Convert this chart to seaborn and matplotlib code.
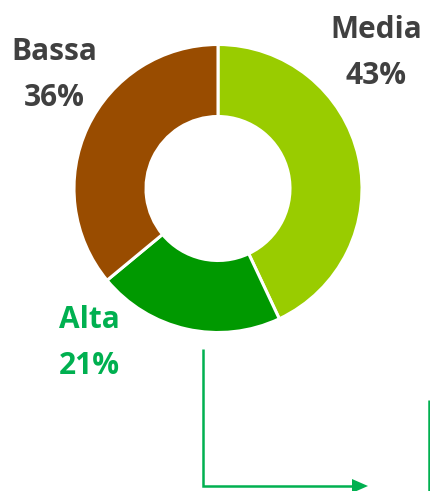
import matplotlib
matplotlib.use("Agg")
from matplotlib import pyplot as plt
import seaborn as sns

# quota per classe
categories = ["Media", "Alta", "Bassa"]
shares = [43, 21, 36]
slice_colors = ["#99CC00", "#009900", "#994C00"]
label_colors = ["#404040", "#00B050", "#404040"]

sns.set_theme(style="white")
plt.rcParams['font.family'] = ['Open Sans', 'DejaVu Sans']

W, H = 430, 491
fig = plt.figure(figsize=(W / 100, H / 100), dpi=100)

# donut: centre (218, 188) px, radius 144 px
cx, cy, r = 218, 188.5, 144
ax = fig.add_axes([(cx - r) / W, (H - cy - r) / H, 2 * r / W, 2 * r / H])
ax.pie(shares, colors=slice_colors, startangle=90, counterclock=False,
       radius=1, wedgeprops=dict(width=0.5, edgecolor="white", linewidth=2.2))
ax.set_xlim(-1, 1)
ax.set_ylim(-1, 1)
ax.set_aspect("equal")
ax.axis("off")

# overlay in pixel coordinates for labels and connectors
ov = fig.add_axes([0, 0, 1, 1], zorder=3)
ov.set_xlim(0, W)
ov.set_ylim(H, 0)
ov.axis("off")
ov.patch.set_alpha(0)

label_pos = {"Media": (376, 38), "Alta": (89, 328), "Bassa": (54, 60)}
for name, val, col in zip(categories, shares, label_colors):
    x, y = label_pos[name]
    ov.text(x, y, name, ha="center", va="baseline", fontsize=21.5,
            fontweight="bold", color=col)
    ov.text(x, y + 46, f"{val}%", ha="center", va="baseline", fontsize=21.5,
            fontweight="bold", color=col)

green = "#00B050"
ov.plot([203, 203, 354], [349, 486, 486], color=green, lw=1.8,
        solid_joinstyle="miter", solid_capstyle="butt")
ov.fill([352, 368, 352], [479, 486, 493], color=green, lw=0)
ov.plot([428.5, 428.5], [400, 491], color=green, lw=1.8, solid_capstyle="butt")

fig.savefig("out.png", dpi=100)
